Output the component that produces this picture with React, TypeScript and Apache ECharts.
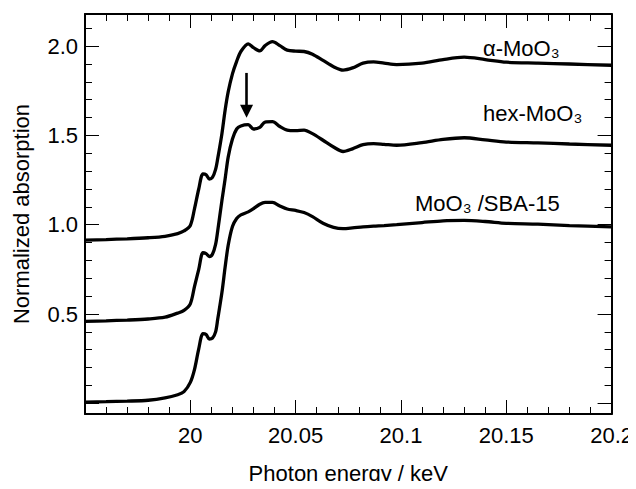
import React, { useEffect, useRef } from "react";
import * as echarts from "echarts";

// Photon energy (keV) sampling points
const energy = [
  19.95, 19.96, 19.97, 19.98, 19.988, 19.994, 19.997,
  20.0, 20.002, 20.004, 20.006, 20.0075, 20.009, 20.0105, 20.012, 20.013, 20.015,
  20.0165, 20.018, 20.02, 20.022, 20.024, 20.0275, 20.03, 20.033, 20.0355, 20.039,
  20.0425, 20.046, 20.05, 20.054, 20.058, 20.063, 20.068, 20.0725, 20.077, 20.082,
  20.087, 20.092, 20.098, 20.11, 20.12, 20.13, 20.14, 20.15, 20.165, 20.18,
  20.2,
];

// alpha-MoO3 (top curve)
const alphaMoO3 = [
  0.914, 0.917, 0.921, 0.927, 0.935, 0.95, 0.965,
  0.996, 1.09, 1.2, 1.285, 1.28, 1.256, 1.265, 1.31, 1.37, 1.51,
  1.64, 1.745, 1.845, 1.915, 1.97, 2.013, 1.992, 1.973, 2.003, 2.025,
  2.003, 1.978, 1.972, 1.97, 1.955, 1.92, 1.885, 1.866, 1.878, 1.905,
  1.912, 1.905, 1.897, 1.905, 1.925, 1.938, 1.925, 1.91, 1.905, 1.9,
  1.893,
];

// hex-MoO3 (middle curve)
const hexMoO3 = [
  0.459, 0.462, 0.466, 0.472, 0.482, 0.505, 0.52,
  0.557, 0.655, 0.75, 0.843, 0.838, 0.822, 0.835, 0.89, 0.965, 1.135,
  1.255, 1.38, 1.48, 1.536, 1.553, 1.56, 1.536, 1.545, 1.575, 1.577,
  1.55, 1.53, 1.527, 1.53, 1.51, 1.473, 1.435, 1.41, 1.425, 1.448,
  1.454, 1.45, 1.445, 1.46, 1.478, 1.487, 1.475, 1.463, 1.458, 1.452,
  1.445,
];

// MoO3/SBA-15 (bottom curve)
const sbaMoO3 = [
  0.007, 0.009, 0.012, 0.017, 0.03, 0.048, 0.065,
  0.117, 0.19, 0.305, 0.39, 0.385, 0.36, 0.365, 0.4, 0.47, 0.62,
  0.76, 0.886, 0.99, 1.035, 1.055, 1.072, 1.09, 1.115, 1.125, 1.125,
  1.105, 1.088, 1.08, 1.068, 1.045, 1.008, 0.985, 0.978, 0.982, 0.988,
  0.992, 0.995, 1.0, 1.012, 1.022, 1.024, 1.018, 1.008, 1.003, 0.995,
  0.988,
];

// Curve labels
const curveLabels = ["α-MoO₃", "hex-MoO₃", "MoO₃ /SBA-15"];

// Arrow marker (energy, from value, to value)
const arrowEnergy = 20.0267;
const arrowValues = [1.85, 1.636];

const xRange = [19.95, 20.2];
const yRange = [-0.06, 2.18];

const FONT = "Liberation Sans, Arial, Helvetica, sans-serif";

export default function App() {
  const ref = useRef<HTMLDivElement>(null);

  useEffect(() => {
    if (!ref.current) return;
    const chart = echarts.init(ref.current, null, { renderer: "svg" });

    const tickCommon = {
      axisLine: { show: true, onZero: false, lineStyle: { color: "#000", width: 2 } },
      axisTick: { show: true, inside: true, length: 14, lineStyle: { color: "#000", width: 1 } },
      minorTick: { show: true, splitNumber: 5, length: 7, lineStyle: { color: "#000", width: 1 } },
      splitLine: { show: false },
      minorSplitLine: { show: false },
    };

    const xBase = { type: "value", min: xRange[0], max: xRange[1], interval: 0.05, ...tickCommon };
    const yBase = { type: "value", min: yRange[0], max: yRange[1], splitNumber: 5, ...tickCommon };

    const mkData = (vals: number[]) => energy.map((e, i) => [e, vals[i]]);
    const lineSeries = (vals: number[]) => ({
      type: "line",
      data: mkData(vals),
      showSymbol: false,
      symbol: "none",
      smooth: 0.3,
      lineStyle: { color: "#000", width: 3.3 },
      silent: true,
      z: 3,
    });

    const hex = lineSeries(hexMoO3) as any;
    hex.markLine = {
      silent: true,
      symbol: ["none", "triangle"],
      symbolSize: 13,
      label: { show: false },
      lineStyle: { color: "#000", width: 2.6, type: "solid" },
      data: [
        [
          { coord: [arrowEnergy, arrowValues[0]] },
          { coord: [arrowEnergy, arrowValues[1]] },
        ],
      ],
    };

    const labelText = (text: string, left: number, top: number) => ({
      type: "text",
      left,
      top,
      silent: true,
      style: { text, fontSize: 22, fontFamily: FONT, fill: "#000" },
    });

    chart.setOption({
      animation: false,
      backgroundColor: "#fff",
      grid: { left: 85, top: 14, right: 24, bottom: 67, containLabel: false },
      xAxis: [
        {
          ...xBase,
          position: "bottom",
          name: "Photon energy / keV",
          nameLocation: "middle",
          nameGap: 48,
          nameTextStyle: { fontSize: 22, fontFamily: FONT, color: "#000" },
          axisLabel: {
            show: true,
            margin: 10,
            fontSize: 22,
            fontFamily: FONT,
            color: "#000",
            formatter: (v: number) => (v < 19.99 ? "" : String(parseFloat(v.toFixed(2)))),
          },
        },
        { ...xBase, position: "top", axisLabel: { show: false } },
      ],
      yAxis: [
        {
          ...yBase,
          position: "left",
          name: "Normalized absorption",
          nameLocation: "middle",
          nameGap: 53,
          nameRotate: 90,
          nameTextStyle: { fontSize: 22, fontFamily: FONT, color: "#000" },
          axisLabel: {
            show: true,
            margin: 7,
            fontSize: 22,
            fontFamily: FONT,
            color: "#000",
            formatter: (v: number) => (v < 0.25 || v > 2.1 ? "" : v.toFixed(1)),
          },
        },
        { ...yBase, position: "right", axisLabel: { show: false } },
      ],
      series: [lineSeries(alphaMoO3), hex, lineSeries(sbaMoO3)],
      graphic: [
        labelText(curveLabels[0], 483, 37),
        labelText(curveLabels[1], 483, 102),
        labelText(curveLabels[2], 415, 192),
      ],
    });

    return () => chart.dispose();
  }, []);

  return <div ref={ref} style={{ width: 636, height: 489, margin: -8 }} />;
}
